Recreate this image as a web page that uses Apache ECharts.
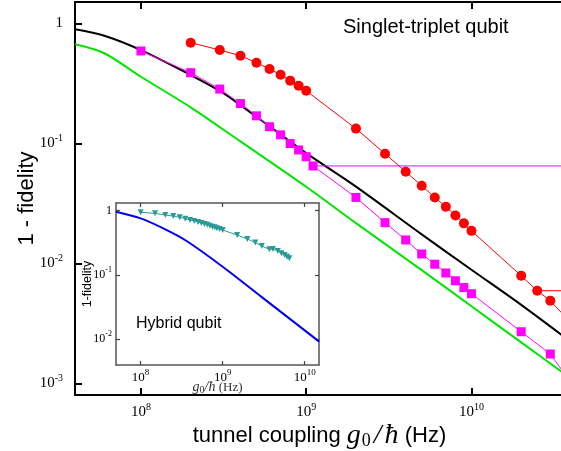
<!DOCTYPE html>
<html>
<head>
<meta charset="utf-8">
<script src="https://cdn.jsdelivr.net/npm/echarts@6/dist/echarts.min.js"></script>
<style>
  html, body { margin: 0; padding: 0; background: #fff; }
  #chart { width: 561px; height: 451px; }
</style>
</head>
<body>
<div id="chart"></div>
<script>
// tunnel coupling g0/hbar (Hz) and 1 - fidelity
const redX = [2e8, 3e8, 4e8, 5e8, 6e8, 7e8, 8e8, 9e8, 1e9, 2e9, 3e9, 4e9, 5e9, 6e9, 7e9, 8e9, 9e9, 1e10, 2e10, 2.5e10, 3e10, 4e10];
const redY = [0.692, 0.601, 0.539, 0.471, 0.418, 0.374, 0.334, 0.303, 0.275, 0.133, 0.0822, 0.0582, 0.0445, 0.0355, 0.0297, 0.0251, 0.0216, 0.0187, 0.0079, 0.00593, 0.0049, 0.0032];
const redFlatX = [2.5e10, 1e11];
const redFlatY = [0.00593, 0.00593];

const magX = [1e8, 2e8, 3e8, 4e8, 5e8, 6e8, 7e8, 8e8, 9e8, 1e9, 1.1e9, 2e9, 3e9, 4e9, 5e9, 6e9, 7e9, 8e9, 9e9, 1e10, 2e10, 3e10, 4e10];
const magY = [0.59, 0.389, 0.284, 0.215, 0.17, 0.138, 0.118, 0.1, 0.0883, 0.0776, 0.065, 0.0355, 0.0219, 0.0157, 0.012, 0.00986, 0.00833, 0.00718, 0.0063, 0.0056, 0.0027, 0.00176, 0.00102];
const magFlatX = [1.1e9, 1e11];
const magFlatY = [0.065, 0.065];

const blackX = [4e7, 6e7, 1e8, 2e8, 3e8, 4e8, 6e8, 1e9, 2e9, 5e9, 1e10, 2e10, 4e10];
const blackY = [0.895, 0.79, 0.60, 0.372, 0.274, 0.209, 0.139, 0.083, 0.0437, 0.0175, 0.00887, 0.00452, 0.00222];

const greenX = [4e7, 6e7, 1e8, 2e8, 4e8, 1e9, 2e9, 5e9, 1e10, 2e10, 4e10];
const greenY = [0.671, 0.565, 0.36, 0.2, 0.104, 0.0436, 0.0217, 0.0088, 0.0044, 0.0022, 0.0011];

// inset: hybrid qubit
const blueX = [5e7, 1e8, 2e8, 3.6e8, 1e9, 3e9, 1.5e10];
const blueY = [0.965, 0.76, 0.513, 0.34, 0.134, 0.045, 0.0091];

const tealX = [1e8, 1.5e8, 2e8, 2.5e8, 3e8, 3.5e8, 4e8, 4.5e8, 5e8, 5.5e8, 6e8, 6.5e8, 7e8, 7.5e8, 8e8, 8.5e8, 9.2e8, 1e9, 1.5e9, 2e9, 2.5e9, 3e9, 3.7e9, 4.1e9, 4.7e9, 5.2e9, 5.7e9, 6.1e9, 6.5e9];
const tealY = [0.944, 0.91, 0.857, 0.826, 0.789, 0.75, 0.716, 0.691, 0.667, 0.643, 0.621, 0.605, 0.584, 0.563, 0.551, 0.532, 0.519, 0.5, 0.418, 0.362, 0.318, 0.282, 0.25, 0.253, 0.236, 0.217, 0.204, 0.192, 0.181];

// tick exponents
const mainXTicks = [8, 9, 10];
const mainYTicks = [-3, -2, -1, 0];
const insetXTicks = [8, 9, 10];
const insetYTicks = [-2, -1, 0];

const chart = echarts.init(document.getElementById('chart'));

function pts(xs, ys) {
  return xs.map(function (x, i) { return [Math.log10(x), Math.log10(ys[i])]; });
}

function powLabel(v) {
  v = Math.round(v);
  if (v === 0) return '{b|1}';
  return '{b|10}{s|' + v + '}';
}

function richFor(size) {
  return {
    b: { fontFamily: 'Liberation Serif', fontSize: size, color: '#000', lineHeight: size + 6 },
    s: { fontFamily: 'Liberation Serif', fontSize: Math.round(size * 0.68), color: '#000', verticalAlign: 'top', lineHeight: size + 6 }
  };
}

const mainRange = { x: [7.601, 10.56], y: [-3.096, 0.179] };
const insetRange = { x: [7.70, 10.174], y: [-2.405, 0.12] };

function mainLine() { return { show: true, onZero: false, lineStyle: { color: '#000', width: 2 } }; }
function insetLine() { return { show: true, onZero: false, lineStyle: { color: '#555', width: 1.5 } }; }
function mainTick(ticks) { return { show: true, inside: true, length: 7, customValues: ticks, lineStyle: { color: '#000', width: 2 } }; }
function insetTick(ticks) { return { show: true, inside: true, length: 4, customValues: ticks, lineStyle: { color: '#444', width: 1.2 } }; }

function edgeAxis(gridIndex, range, position, line, tick, ticks) {
  return {
    gridIndex: gridIndex, type: 'value', min: range[0], max: range[1], position: position,
    axisLine: line, splitLine: { show: false },
    axisTick: tick,
    axisLabel: { show: false, customValues: ticks }
  };
}

const option = {
  animation: false,
  backgroundColor: '#fff',
  grid: [
    { left: 75, top: 2, right: -3, bottom: 56, outerBoundsMode: 'none', containLabel: false },
    { left: 116, top: 203, width: 203, height: 162, outerBoundsMode: 'none', containLabel: false }
  ],
  xAxis: [
    {
      gridIndex: 0, type: 'value', min: mainRange.x[0], max: mainRange.x[1], position: 'bottom',
      axisLine: mainLine(), splitLine: { show: false },
      axisTick: mainTick(mainXTicks),
      axisLabel: { customValues: mainXTicks, formatter: powLabel, rich: richFor(15), margin: 7 },
      name: '{t|tunnel coupling }{i|g}{sub|0}{sl|/}{i|ħ}{t| (Hz)}',
      nameLocation: 'middle', nameGap: 27, nameMoveOverlap: false,
      nameTextStyle: {
        rich: {
          t: { fontFamily: 'Liberation Sans', fontSize: 22, color: '#000' },
          i: { fontFamily: 'Liberation Serif', fontStyle: 'italic', fontSize: 28, color: '#000' },
          sl: { fontFamily: 'Liberation Serif', fontStyle: 'italic', fontSize: 28, color: '#000', padding: [0, 3, 0, 3] },
          sub: { fontFamily: 'Liberation Serif', fontSize: 18, color: '#000', padding: [10, 0, 0, 1] }
        }
      }
    },
    edgeAxis(0, mainRange.x, 'top', mainLine(), mainTick(mainXTicks), mainXTicks),
    {
      gridIndex: 1, type: 'value', min: insetRange.x[0], max: insetRange.x[1], position: 'bottom',
      axisLine: insetLine(), splitLine: { show: false },
      axisTick: insetTick(insetXTicks),
      axisLabel: { customValues: insetXTicks, formatter: powLabel, rich: richFor(13), margin: 3 },
      name: '{i|g}{sub|0}{i|/ħ}{t| (Hz)}',
      nameLocation: 'middle', nameGap: 15, nameMoveOverlap: false,
      nameTextStyle: {
        rich: {
          t: { fontFamily: 'Liberation Serif', fontSize: 13, color: '#333' },
          i: { fontFamily: 'Liberation Serif', fontStyle: 'italic', fontSize: 14, color: '#333' },
          sub: { fontFamily: 'Liberation Serif', fontSize: 10, color: '#333', padding: [5, 0, 0, 0] }
        }
      }
    },
    edgeAxis(1, insetRange.x, 'top', insetLine(), insetTick(insetXTicks), insetXTicks)
  ],
  yAxis: [
    {
      gridIndex: 0, type: 'value', min: mainRange.y[0], max: mainRange.y[1], position: 'left',
      axisLine: mainLine(), splitLine: { show: false },
      axisTick: mainTick(mainYTicks),
      axisLabel: { customValues: mainYTicks, formatter: powLabel, rich: richFor(15), margin: 12 },
      name: '1 - fidelity', nameLocation: 'middle', nameGap: 37, nameRotate: 90, nameMoveOverlap: false,
      nameTextStyle: { fontFamily: 'Liberation Sans', fontSize: 22, color: '#000' }
    },
    {
      gridIndex: 1, type: 'value', min: insetRange.y[0], max: insetRange.y[1], position: 'left',
      axisLine: insetLine(), splitLine: { show: false },
      axisTick: insetTick(insetYTicks),
      axisLabel: { customValues: insetYTicks, formatter: powLabel, rich: richFor(12), margin: 4 },
      name: '1-fidelity', nameLocation: 'middle', nameGap: 22, nameRotate: 90, nameMoveOverlap: false,
      nameTextStyle: { fontFamily: 'Liberation Sans', fontSize: 12.5, color: '#000' }
    },
    edgeAxis(1, insetRange.y, 'right', insetLine(), insetTick(insetYTicks), insetYTicks)
  ],
  graphic: [
    { type: 'text', left: 343, top: 17, style: { text: 'Singlet-triplet qubit', font: '20px "Liberation Sans"', fill: '#000' } },
    { type: 'text', left: 136, top: 316, style: { text: 'Hybrid qubit', font: '16px "Liberation Sans"', fill: '#000' } }
  ],
  series: [
    {
      type: 'line', xAxisIndex: 0, yAxisIndex: 0, data: pts(greenX, greenY), smooth: 0.3,
      showSymbol: false, lineStyle: { color: '#00e600', width: 2 }, z: 2
    },
    {
      type: 'line', xAxisIndex: 0, yAxisIndex: 0, data: pts(blackX, blackY), smooth: 0.3,
      showSymbol: false, lineStyle: { color: '#000', width: 2 }, z: 2
    },
    {
      type: 'line', xAxisIndex: 0, yAxisIndex: 0, data: pts(magFlatX, magFlatY),
      showSymbol: false, lineStyle: { color: '#ff00ff', width: 1 }, z: 3
    },
    {
      type: 'line', xAxisIndex: 0, yAxisIndex: 0, data: pts(magX, magY),
      symbol: 'rect', symbolSize: 9, itemStyle: { color: '#ff00ff' },
      lineStyle: { color: '#ff00ff', width: 1 }, z: 3
    },
    {
      type: 'line', xAxisIndex: 0, yAxisIndex: 0, data: pts(redFlatX, redFlatY),
      showSymbol: false, lineStyle: { color: '#ff0000', width: 1 }, z: 3
    },
    {
      type: 'line', xAxisIndex: 0, yAxisIndex: 0, data: pts(redX, redY),
      symbol: 'circle', symbolSize: 10, itemStyle: { color: '#ff0000' },
      lineStyle: { color: '#ff0000', width: 1 }, z: 3
    },
    {
      type: 'line', xAxisIndex: 2, yAxisIndex: 1, data: pts(blueX, blueY), smooth: 0.3,
      showSymbol: false, lineStyle: { color: '#0000ee', width: 2 }, z: 4
    },
    {
      type: 'line', xAxisIndex: 2, yAxisIndex: 1, data: pts(tealX, tealY),
      symbol: 'triangle', symbolRotate: 180, symbolSize: 6, itemStyle: { color: '#2a9a98' },
      lineStyle: { color: '#2a9a98', width: 1 }, z: 4
    }
  ]
};

chart.setOption(option);
</script>
</body>
</html>
